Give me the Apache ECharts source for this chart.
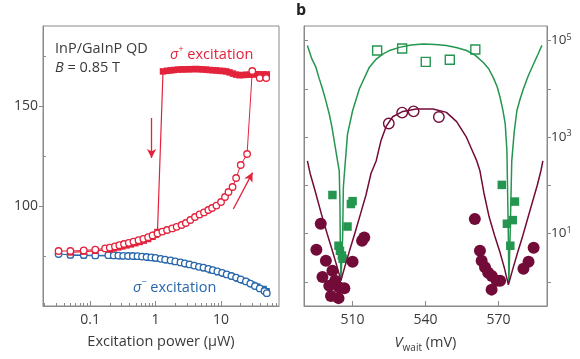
<!DOCTYPE html>
<html><head><meta charset="utf-8">
<script src="https://cdn.jsdelivr.net/npm/echarts@6/dist/echarts.min.js"></script>
<style>html,body{margin:0;padding:0;background:#fff}#c{width:580px;height:359px}</style>
</head><body><div id="c"></div>
<script>
// ---------- Panel a (excitation power sweep) ----------
const powerTicks = [0.1, 1, 10];
const powerMinorTicks = [0.02,0.03,0.04,0.05,0.06,0.07,0.08,0.09,0.2,0.3,0.4,0.5,0.6,0.7,0.8,0.9,2,3,4,5,6,7,8,9,20,30,40,50,60,70];
const fieldTicks = [100, 150];
const fieldMinorTicks = [75, 125, 175];

// sigma+ excitation, increasing power (open circles)
const redUpX = [0.033,0.05,0.08,0.12,0.17,0.2,0.24,0.28,0.33,0.39,0.46,0.55,0.65,0.77,0.9,1.07,1.27,1.5,1.8,2.1,2.5,2.9,3.4,4.0,4.7,5.5,6.4,7.3,8.5,10,11.5,13,15,17,20,25,30,39,49];
const redUpY = [77.5,77.5,77.8,78.2,78.8,79.2,79.8,80.4,81,81.6,82.2,82.9,83.6,84.4,85.3,86.3,87.2,88,88.8,89.6,90.5,91.5,93,94.5,95.8,96.8,98,99,100.2,102,104.5,107,109.5,114,120.5,126,167.5,164,164];
// sigma+ excitation, decreasing power (filled squares)
const redDownX = [0.05,0.08,0.12,0.2,0.23,0.27,0.31,0.36,0.42,0.49,0.57,0.66,0.77,0.9,1.0,1.07,1.3,1.5,1.7,1.9,2.2,2.5,2.8,3.2,3.6,4.1,4.6,5.2,5.9,6.6,7.5,8.4,9.5,10.7,12,13.5,15.2,17,19.2,21.6,24.3,27.4,30.8,34.7,39,44,50];
const redDownY = [76.8,77.2,77.6,78.3,78.8,79.3,79.8,80.3,80.8,81.4,82,82.7,83.5,84.6,85.6,87,167.3,167.6,167.8,168,168.2,168.3,168.3,168.4,168.4,168.5,168.4,168.3,168.2,168,167.9,167.8,167.6,167.5,167.3,166.8,166.2,165.7,165.4,165.5,165.6,165.7,165.8,165.9,165.8,165.8,165.8];
// sigma- excitation (open circles, filled squares)
const blueUpX = [0.033,0.05,0.08,0.12,0.19,0.23,0.27,0.32,0.38,0.45,0.53,0.62,0.73,0.86,1.0,1.2,1.4,1.7,2.0,2.4,2.8,3.3,3.9,4.6,5.4,6.4,7.5,8.8,10.4,12.2,14.4,17,20,24,28,33,39,46,50];
const blueUpY = [76,75.6,75.5,75.3,75.4,75.3,75.2,75.1,75,75,74.9,74.7,74.5,74.3,74.1,73.6,73.2,72.8,72.3,71.8,71.3,70.8,70.2,69.6,69.2,68.6,67.9,67.3,66.6,65.8,65,64.2,63.3,62.3,61.2,60,58.8,57.5,56.4];
const blueDownX = [0.05,0.08,0.12,0.2,0.3,0.5,0.8,1.0,1.5,2,3,4,5.5,7,9,11,12.5,15,18,22,25,30,36,45,50];
const blueDownY = [75.3,75.2,75.1,75,74.8,74.5,74,73.7,72.8,72,70.8,70,68.8,67.8,66.8,66,65.5,64.6,63.6,62.6,62,60.8,59.8,58.6,57.5];
// arrows (data coordinates)
const arrowDown = [[0.87, 144], [0.87, 124]];
const arrowUp = [[15.4, 98.5], [30.3, 116.7]];

// ---------- Panel b (V_wait) ----------
const vTicks = [510, 540, 570];
const logTicks = [1, 10, 100, 1000, 10000, 100000];
const logLabels = [10, 1000, 100000];

const greenFitX = [491.4,493.2,494.9,496.2,497.6,499,500.4,501.5,502.4,503.8,504.5,504.8,504.9,505.2,505.9,506.2,506.6,507.9,510,512.8,516.9,519.5,522.4,525.5,529.3,534,539,544,548.6,553,556.9,560.5,563.8,566,567.9,569.5,570.7,571.8,572.8,573.5,574.1,574.3,574.8,575.5,576.5,577.6,579,580.3,582.3,584.5,586.3,587.9];
const greenFitY = [7.9e4,4.2e4,2.8e4,1.66e4,1.0e4,5.6e3,3.0e3,1.6e3,850,320,200,41,8.3,1.05,8.3,91,170,1150,3.5e3,1.0e4,2.8e4,4.0e4,5.2e4,6.3e4,7.2e4,8.1e4,8.5e4,8.3e4,7.9e4,7.1e4,6.2e4,4.9e4,3.5e4,2.6e4,1.7e4,1.1e4,6.6e3,3.7e3,1.9e3,520,8.3,1.0,8.3,320,1.26e3,3.5e3,6.3e3,1.0e4,1.86e4,3.3e4,5.2e4,7.9e4];
const maroonFitX = [491.4,492.5,494.5,497.2,499.5,501.8,503.8,505.2,506.6,508.6,510.9,513.2,515.5,517.6,519.7,521.7,523.8,526.5,530.7,536.2,543.1,548.6,552.8,556.9,559,561.1,562.4,564,566.2,568.5,570.7,572.5,574.1,576,578,580,582,584,586,587.5,588.3];
const maroonFitY = [320,178,79,25,10,4.2,1.9,1.07,1.9,4.2,10,25,63,178,320,850,1660,2630,3390,3800,3800,3240,2090,980,560,320,200,71,22,8.9,4.0,1.9,0.87,1.9,4.2,8.9,20,45,100,200,320];

const greenOpenX = [520.1, 530.4, 540.1, 550, 560.5];
const greenOpenY = [6.2e4, 6.8e4, 3.6e4, 4.0e4, 6.5e4];
const greenFilledX = [501.7,509.3,510,507.9,504.2,504.8,505.6,505.9,571.4,576.8,575.9,573.5,574.9];
const greenFilledY = [63,41,47,14,5.6,4.4,3.5,3.0,102,46,19,16,5.6];
const maroonOpenX = [524.9, 530.4, 535.1, 545.5];
const maroonOpenY = [1.9e3, 3.2e3, 3.4e3, 2.6e3];
const maroonFilledX = [496.9,495.1,499,497.6,501.7,500.4,502.8,504.5,504.2,506.6,510,513.9,514.8,501.1,560.3,562.4,563.1,564.5,565.8,567.3,569.3,570.7,567.2,584.5,582.4,580.3];
const maroonFilledY = [16,4.6,2.75,1.26,1.7,0.83,1.05,0.76,0.46,0.74,2.6,7.1,8.3,0.51,20,4.4,2.75,2.0,1.55,1.32,1.05,1.05,0.69,5.1,2.6,1.86];

// ---------- build ----------
const zip = (xs, ys) => xs.map((x, i) => [x, ys[i]]);
const RED = '#e3223c', BLUE = '#2767ab', GREEN = '#24964f', MAROON = '#730b38', AX = '#8a8a8a', TXT = '#3a3a3a';
const FONT = 'Open Sans';

const chart = echarts.init(document.getElementById('c'), null, {renderer: 'canvas'});
const openC = (c) => ({color: '#fff', borderColor: c, borderWidth: 1.3, opacity: 1});

chart.setOption({
  animation: false,
  textStyle: {fontFamily: FONT},
  grid: [
    {left: 43, top: 26, width: 236, height: 280, show: true, borderColor: AX, borderWidth: 1},
    {left: 304, top: 26, width: 243, height: 280, show: true, borderColor: AX, borderWidth: 1}
  ],
  xAxis: [
    {type: 'log', gridIndex: 0, position: 'bottom', min: 0.0191, max: 76.8,
     axisLine: {lineStyle: {color: AX}}, splitLine: {show: false},
     axisTick: {inside: true, length: 5, customValues: powerTicks, lineStyle: {color: AX}},
     axisLabel: {customValues: powerTicks, color: TXT, fontSize: 14, margin: 7},
     name: 'Excitation power (\u03bcW)', nameLocation: 'middle', nameGap: 28,
     nameTextStyle: {color: TXT, fontSize: 14.5}},
    {type: 'log', gridIndex: 0, position: 'bottom', min: 0.0191, max: 76.8,
     axisLine: {show: false}, splitLine: {show: false},
     axisTick: {inside: true, length: 3, customValues: powerMinorTicks, lineStyle: {color: AX}},
     axisLabel: {show: false}},
    {type: 'value', gridIndex: 1, position: 'bottom', min: 490, max: 590,
     axisLine: {lineStyle: {color: AX}}, splitLine: {show: false},
     axisTick: {inside: true, length: 5, customValues: vTicks, lineStyle: {color: AX}},
     axisLabel: {customValues: vTicks, color: TXT, fontSize: 14, margin: 7},
     name: '{i|V}{sub|wait} (mV)', nameLocation: 'middle', nameGap: 27,
     nameTextStyle: {color: TXT, fontSize: 14.5, lineHeight: 20,
       rich: {i: {fontStyle: 'italic', fontSize: 14.5, color: TXT, lineHeight: 20}, sub: {fontSize: 10, color: TXT, verticalAlign: 'bottom', lineHeight: 12}}}}
  ],
  yAxis: [
    {type: 'value', gridIndex: 0, position: 'left', min: 50, max: 190,
     axisLine: {lineStyle: {color: AX}}, splitLine: {show: false},
     axisTick: {inside: false, length: 4, customValues: fieldTicks, lineStyle: {color: AX}},
     axisLabel: {customValues: fieldTicks, color: TXT, fontSize: 14, margin: 5}},
    {type: 'value', gridIndex: 0, position: 'left', min: 50, max: 190,
     axisLine: {show: false}, splitLine: {show: false},
     axisTick: {inside: true, length: 3, customValues: fieldMinorTicks, lineStyle: {color: AX}},
     axisLabel: {show: false}},
    {type: 'log', gridIndex: 1, position: 'right', min: 0.316, max: 199526,
     axisLine: {lineStyle: {color: AX}}, splitLine: {show: false},
     axisTick: {inside: false, length: 4, customValues: logTicks, lineStyle: {color: AX}},
     axisLabel: {customValues: logLabels, margin: 4,
       formatter: (v) => '{b|10}{s|' + Math.round(Math.log10(v)) + '}',
       rich: {b: {fontSize: 13.5, color: TXT, lineHeight: 16}, s: {fontSize: 9, color: TXT, verticalAlign: 'top', lineHeight: 10}}}},
    {type: 'log', gridIndex: 1, position: 'left', min: 0.316, max: 199526,
     axisLine: {lineStyle: {color: AX}}, splitLine: {show: false},
     axisTick: {inside: true, length: 4, customValues: logTicks, lineStyle: {color: AX}},
     axisLabel: {show: false}}
  ],
  series: [
    {type: 'line', xAxisIndex: 0, yAxisIndex: 0, data: zip(blueDownX, blueDownY),
     symbol: 'rect', symbolSize: 6, lineStyle: {color: BLUE, width: 1}, itemStyle: {color: BLUE, opacity: 1}},
    {type: 'line', xAxisIndex: 0, yAxisIndex: 0, data: zip(blueUpX, blueUpY),
     symbol: 'circle', symbolSize: 6.5, lineStyle: {color: BLUE, width: 1}, itemStyle: openC(BLUE)},
    {type: 'line', xAxisIndex: 0, yAxisIndex: 0, data: zip(redDownX, redDownY),
     symbol: 'rect', symbolSize: 6.5, lineStyle: {color: RED, width: 1.2}, itemStyle: {color: RED, opacity: 1},
     markLine: {silent: true, symbol: ['none', 'arrow'], symbolSize: [7, 9], label: {show: false},
       lineStyle: {color: RED, width: 1.3, type: 'solid'},
       data: [
         [{coord: arrowDown[0]}, {coord: arrowDown[1]}],
         [{coord: arrowUp[0]}, {coord: arrowUp[1]}]
       ]}},
    {type: 'line', xAxisIndex: 0, yAxisIndex: 0, data: zip(redUpX, redUpY),
     symbol: 'circle', symbolSize: 6.5, lineStyle: {color: RED, width: 1}, itemStyle: openC(RED)},

    {type: 'line', xAxisIndex: 2, yAxisIndex: 2, data: zip(greenFitX, greenFitY), showSymbol: false,
     lineStyle: {color: GREEN, width: 1.5}},
    {type: 'line', xAxisIndex: 2, yAxisIndex: 2, data: zip(maroonFitX, maroonFitY), showSymbol: false,
     lineStyle: {color: MAROON, width: 1.5}},
    {type: 'scatter', xAxisIndex: 2, yAxisIndex: 2, data: zip(greenOpenX, greenOpenY),
     symbol: 'rect', symbolSize: 9, itemStyle: {color: '#fff', borderColor: GREEN, borderWidth: 1.4, opacity: 1}},
    {type: 'scatter', xAxisIndex: 2, yAxisIndex: 2, data: zip(maroonOpenX, maroonOpenY),
     symbol: 'circle', symbolSize: 10.5, itemStyle: {color: '#fff', borderColor: MAROON, borderWidth: 1.4, opacity: 1}},
    {type: 'scatter', xAxisIndex: 2, yAxisIndex: 2, data: zip(maroonFilledX, maroonFilledY),
     symbol: 'circle', symbolSize: 12, itemStyle: {color: MAROON, opacity: 1}},
    {type: 'scatter', xAxisIndex: 2, yAxisIndex: 2, data: zip(greenFilledX, greenFilledY),
     symbol: 'rect', symbolSize: 8.5, itemStyle: {color: GREEN, opacity: 1}}
  ],
  graphic: [
    {type: 'text', left: 55, top: 41, style: {text: 'InP/GaInP QD', font: '14.5px "Open Sans"', fill: TXT}},
    {type: 'text', left: 55, top: 60, style: {text: '{i|B} = 0.85 T', font: '14.5px "Open Sans"', fill: TXT,
      rich: {i: {fontStyle: 'italic', fontSize: 14.5, fontFamily: FONT, fill: TXT}}}},
    {type: 'text', left: 170, top: 45, style: {text: '{i|\u03c3}{s|+} excitation', font: '14.5px "Open Sans"', fill: RED,
      rich: {i: {fontStyle: 'italic', fontSize: 14.5, fontFamily: FONT, fill: RED, lineHeight: 20}, s: {fontSize: 9, fontFamily: FONT, fill: RED, verticalAlign: 'top', lineHeight: 10}}}},
    {type: 'text', left: 133, top: 278, style: {text: '{i|\u03c3}{s|\u2212} excitation', font: '14.5px "Open Sans"', fill: BLUE,
      rich: {i: {fontStyle: 'italic', fontSize: 14.5, fontFamily: FONT, fill: BLUE, lineHeight: 20}, s: {fontSize: 9, fontFamily: FONT, fill: BLUE, verticalAlign: 'top', lineHeight: 10}}}},
    {type: 'text', left: 296, top: 2, style: {text: 'b', font: 'bold 16px "Open Sans"', fill: '#222'}}
  ]
});
</script></body></html>
